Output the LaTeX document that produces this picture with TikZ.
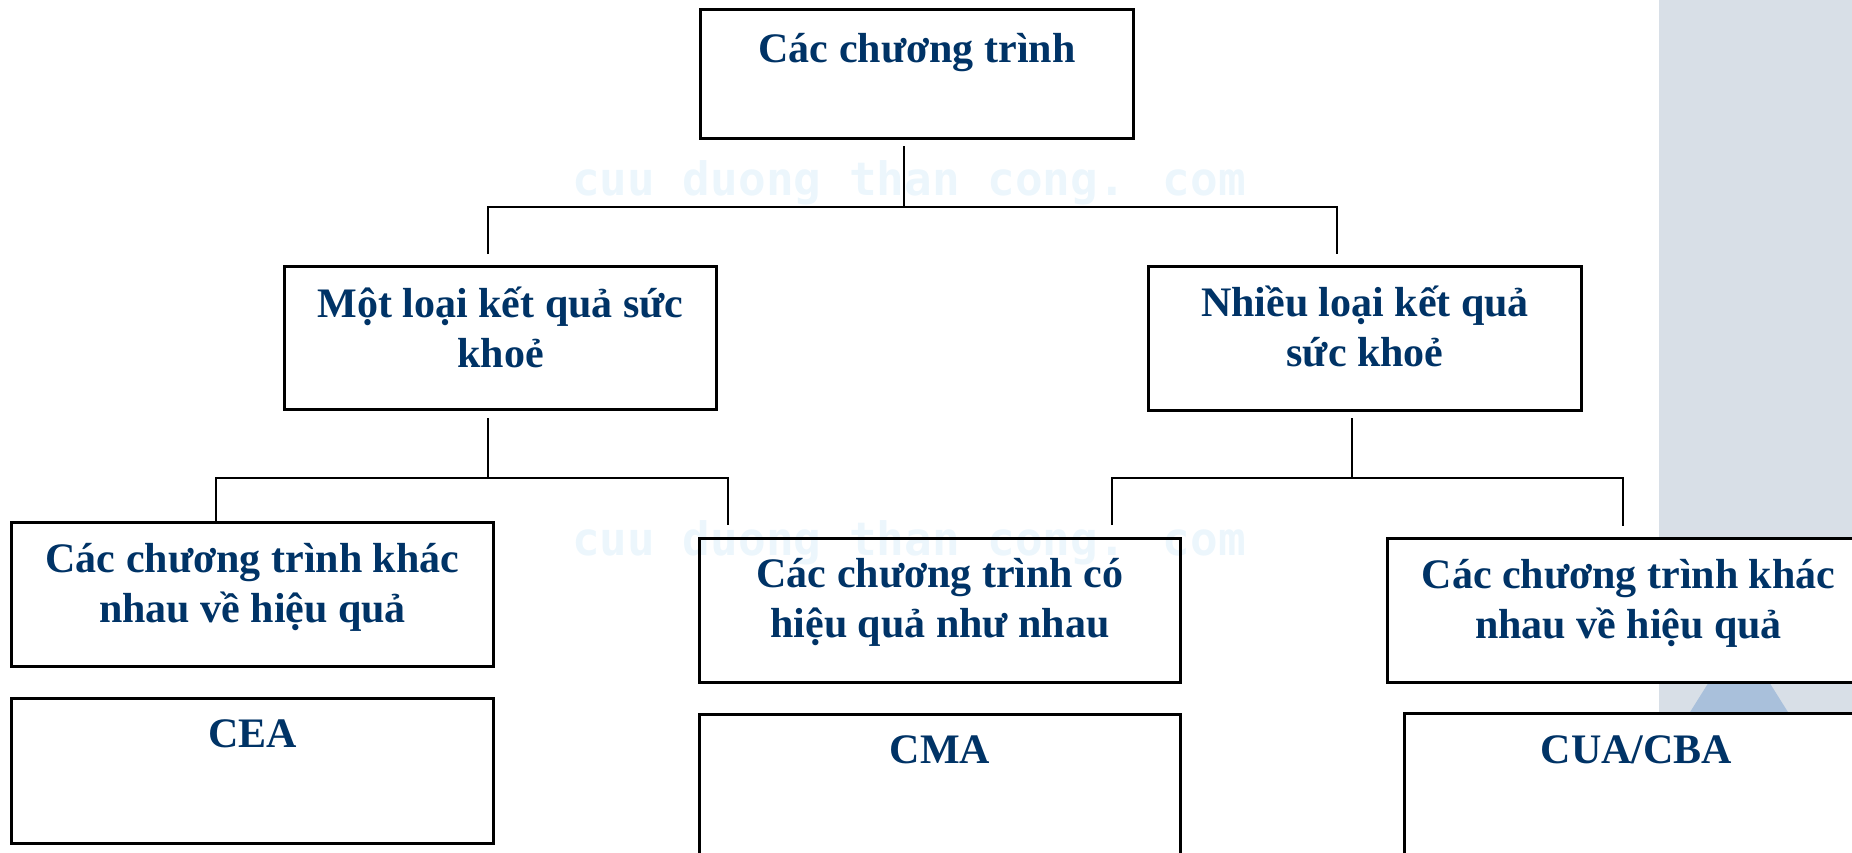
\documentclass[tikz,border=0pt]{standalone}
\usepackage{fontspec}
\setmainfont{Liberation Serif}
\newfontfamily\markfont{DejaVu Sans Mono}
\usetikzlibrary{calc}
\definecolor{navy}{RGB}{0,51,102}
\definecolor{panel}{RGB}{216,223,231}
\definecolor{wedge}{RGB}{169,192,219}
\definecolor{markblue}{RGB}{236,246,252}

\begin{document}
\begin{tikzpicture}[x=1pt,y=-1pt,
  box/.style={draw=black, line width=3pt, fill=white, anchor=north west, inner sep=0pt},
  lbl/.style={anchor=north, inner sep=0pt, align=center, text=navy,
              font=\fontsize{42}{50}\selectfont\bfseries},
  link/.style={draw=black, line width=2.5pt, line join=miter},
  wmark/.style={anchor=base west, inner sep=0pt, text=markblue,
                font=\markfont\bfseries\fontsize{46}{46}\selectfont}]
\useasboundingbox (0,0) rectangle (1852,852);
\clip (0,0) rectangle (1852,852);

% side panel and its wedge
\fill[panel] (1659,0) rectangle (1852,852);
\fill[wedge] (1739,634) -- (1660,760) -- (1818,760) -- cycle;

% boxes
\node[box, minimum width=433pt, minimum height=129pt] (top)    at (699,8)   {};
\node[box, minimum width=432pt, minimum height=143pt] (mot)    at (283,265) {};
\node[box, minimum width=433pt, minimum height=144pt] (nhieu)  at (1147,265) {};
\node[box, minimum width=482pt, minimum height=144pt] (leftb)  at (10,521)  {};
\node[box, minimum width=482pt, minimum height=145pt] (cea)    at (10,697)  {};
\node[box, minimum width=481pt, minimum height=144pt] (midb)   at (698,537) {};
\node[box, minimum width=481pt, minimum height=170pt] (cma)    at (698,713) {};
\node[box, minimum width=482pt, minimum height=144pt] (rightb) at (1386,537) {};
\node[box, minimum width=464pt, minimum height=170pt] (cua)    at (1403,712) {};

% box texts (first line strut fixes the first baseline)
\node[lbl] (ttop)    at ($(top.north)+(0,10)$)   {\rule{0pt}{44pt}Các chương trình};
\node[lbl] (tmot)    at ($(mot.north)+(0,8)$)    {\rule{0pt}{44pt}Một loại kết quả sức\\khoẻ};
\node[lbl] (tnhieu)  at ($(nhieu.north)+(0,7)$)  {\rule{0pt}{44pt}Nhiều loại kết quả\\sức khoẻ};
\node[lbl] (tleftb)  at ($(leftb.north)+(0,7)$)  {\rule{0pt}{44pt}Các chương trình khác\\nhau về hiệu quả};
\node[lbl] (tcea)    at ($(cea.north)+(0,6)$)    {\rule{0pt}{44pt}CEA};
\node[lbl] (tmidb)   at ($(midb.north)+(0,6)$)   {\rule{0pt}{44pt}Các chương trình có\\hiệu quả như nhau};
\node[lbl] (tcma)    at ($(cma.north)+(0,6)$)    {\rule{0pt}{44pt}CMA};
\node[lbl] (trightb) at ($(rightb.north)+(0,7)$) {\rule{0pt}{44pt}Các chương trình khác\\nhau về hiệu quả};
\node[lbl] (tcua)    at ($(cua.north)+(0,7)$)    {\rule{0pt}{44pt}CUA/CBA};

% watermark, multiplied so dark strokes stay dark
\begin{scope}[blend mode=multiply]
\node[wmark] (wm1) at (572,195) {cuu duong than cong. com};
\node[wmark] (wm2) at (572,555) {cuu duong than cong. com};
\end{scope}

% tree connectors
\coordinate (busA) at (904,207);
\coordinate (b1L)  at (488,207);
\coordinate (b1R)  at (1337,207);
\draw[link] ([yshift=-6pt]top.south -| busA) -- (busA);
\draw[link] ([yshift=11pt]mot.north -| b1L) -- (b1L) -- (b1R) -- ([yshift=11pt]nhieu.north -| b1R);

\coordinate (b2)  at (488,478);
\coordinate (b2L) at (216,478);
\coordinate (b2R) at (728,478);
\draw[link] ([yshift=-7pt]mot.south -| b2) -- (b2);
\draw[link] (leftb.north -| b2L) -- (b2L) -- (b2R) -- ([yshift=12pt]midb.north -| b2R);

\coordinate (b3)  at (1352,478);
\coordinate (b3L) at (1112,478);
\coordinate (b3R) at (1623,478);
\draw[link] ([yshift=-6pt]nhieu.south -| b3) -- (b3);
\draw[link] ([yshift=12pt]midb.north -| b3L) -- (b3L) -- (b3R) -- ([yshift=11pt]rightb.north -| b3R);
\end{tikzpicture}
\end{document}
